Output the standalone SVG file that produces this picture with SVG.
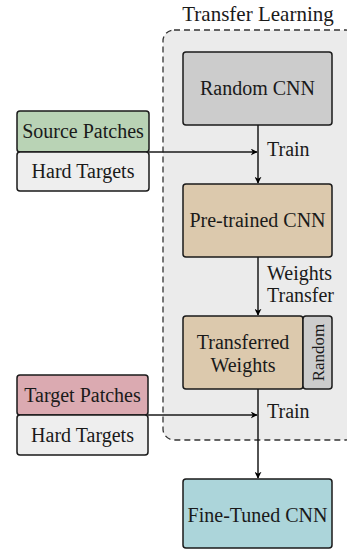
<svg xmlns="http://www.w3.org/2000/svg" width="347" height="550" viewBox="0 0 347 550">
  <defs>
    <marker id="arrow" viewBox="0 0 10 10" refX="9" refY="5" markerWidth="7" markerHeight="7" orient="auto" markerUnits="userSpaceOnUse">
      <path d="M0,0 L10,5 L0,10 L3,5 Z" fill="#000"/>
    </marker>
  </defs>
  <style>
    text { font-family: "Liberation Serif", "DejaVu Serif", serif; font-size: 20px; fill: #1a1a1a; }
    .mid { text-anchor: middle; }
    .box { stroke: #1a1a1a; stroke-width: 1.5; }
    .edge { stroke: #1a1a1a; stroke-width: 1.5; fill: none; }
  </style>

  <rect width="347" height="550" fill="#fff"/>

  <!-- Transfer learning container -->
  <g id="container">
    <rect x="163" y="30" width="194" height="410" rx="11" fill="#ebebeb" stroke="#333" stroke-width="1.3" stroke-dasharray="6,4"/>
    <text x="258" y="21" class="mid" style="font-size:21px">Transfer Learning</text>
  </g>

  <g id="connectors">
    <line x1="258" y1="125" x2="258" y2="183" class="edge" marker-end="url(#arrow)"/>
    <line x1="149" y1="152" x2="257" y2="152" class="edge" marker-end="url(#arrow)"/>
    <line x1="258" y1="257" x2="258" y2="315" class="edge" marker-end="url(#arrow)"/>
    <line x1="258" y1="389" x2="258" y2="478" class="edge" marker-end="url(#arrow)"/>
    <line x1="148" y1="415" x2="257" y2="415" class="edge" marker-end="url(#arrow)"/>
    <text x="267" y="156">Train</text>
    <text x="267" y="280">Weights</text>
    <text x="267" y="302">Transfer</text>
    <text x="267" y="418">Train</text>
  </g>

  <g id="random-cnn">
    <rect x="183" y="52" width="149" height="73" rx="3" fill="#cccccc" class="box"/>
    <text x="257.5" y="95" class="mid">Random CNN</text>
  </g>

  <g id="source-patches">
    <rect x="17" y="111" width="132" height="41" rx="3" fill="#b9d3b5" class="box"/>
    <text x="83" y="138" class="mid">Source Patches</text>
  </g>
  <g id="source-targets">
    <rect x="17" y="152" width="132" height="39" rx="3" fill="#eeeeee" class="box"/>
    <text x="83" y="178" class="mid">Hard Targets</text>
  </g>

  <g id="pretrained-cnn">
    <rect x="183" y="184" width="149" height="73" rx="3" fill="#dcc9ad" class="box"/>
    <text x="257.5" y="227" class="mid">Pre-trained CNN</text>
  </g>

  <g id="transferred-weights">
    <rect x="183" y="316" width="120" height="73" rx="3" fill="#dcc9ad" class="box"/>
    <text x="243" y="349" class="mid">Transferred</text>
    <text x="243" y="372" class="mid">Weights</text>
  </g>
  <g id="random-layer">
    <rect x="303" y="316" width="29" height="73" rx="3" fill="#cccccc" class="box"/>
    <text transform="translate(323.5,352.5) rotate(-90)" class="mid" style="font-size:17px">Random</text>
  </g>

  <g id="target-patches">
    <rect x="17" y="375" width="131" height="40" rx="3" fill="#dbaab1" class="box"/>
    <text x="82.5" y="402" class="mid">Target Patches</text>
  </g>
  <g id="target-targets">
    <rect x="17" y="415" width="131" height="40" rx="3" fill="#eeeeee" class="box"/>
    <text x="82.5" y="442" class="mid">Hard Targets</text>
  </g>

  <g id="fine-tuned-cnn">
    <rect x="183" y="479" width="149" height="69" rx="3" fill="#acd5da" class="box"/>
    <text x="257.5" y="522" class="mid">Fine-Tuned CNN</text>
  </g>
</svg>
